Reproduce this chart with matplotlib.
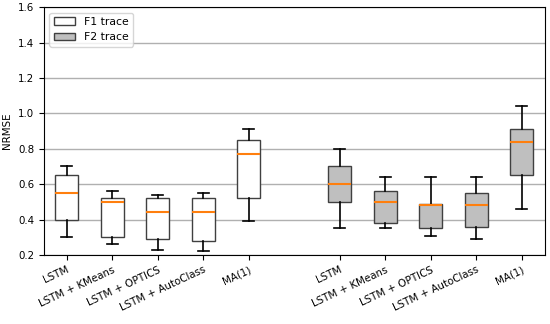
import matplotlib
matplotlib.use("Agg")
import matplotlib.pyplot as plt
from matplotlib.patches import Patch

methods = ["LSTM", "LSTM + KMeans", "LSTM + OPTICS", "LSTM + AutoClass", "MA(1)"]

# whislo, q1, med, q3, whishi
f1_low = [0.30, 0.26, 0.23, 0.22, 0.39]
f1_q1 = [0.40, 0.30, 0.29, 0.28, 0.52]
f1_med = [0.55, 0.50, 0.44, 0.44, 0.77]
f1_q3 = [0.65, 0.52, 0.52, 0.52, 0.85]
f1_high = [0.70, 0.56, 0.54, 0.55, 0.91]

f2_low = [0.35, 0.35, 0.31, 0.29, 0.46]
f2_q1 = [0.50, 0.38, 0.35, 0.36, 0.65]
f2_med = [0.60, 0.50, 0.48, 0.48, 0.84]
f2_q3 = [0.70, 0.56, 0.49, 0.55, 0.91]
f2_high = [0.80, 0.64, 0.64, 0.64, 1.04]


def make_stats(lo, q1, med, q3, hi):
    return [dict(whislo=a, q1=b, med=c, q3=d, whishi=e, fliers=[])
            for a, b, c, d, e in zip(lo, q1, med, q3, hi)]


plt.rcParams['font.size'] = 7.4

fig, ax = plt.subplots(figsize=(5.5, 3.24), dpi=100)
fig.subplots_adjust(left=0.08, right=0.99, top=0.978, bottom=0.213)

ax.yaxis.grid(True, color="#b0b0b0", linewidth=1)
ax.set_axisbelow(True)

med_style = dict(color="#ff7f0e", linewidth=1.5)
whisk = dict(color="black", linewidth=1.2)

ax.bxp(make_stats(f1_low, f1_q1, f1_med, f1_q3, f1_high), positions=[1, 2, 3, 4, 5],
       widths=0.5, patch_artist=True, showfliers=False,
       boxprops=dict(facecolor="white", edgecolor="#404040", linewidth=1),
       medianprops=med_style, whiskerprops=whisk, capprops=whisk)
ax.bxp(make_stats(f2_low, f2_q1, f2_med, f2_q3, f2_high), positions=[7, 8, 9, 10, 11],
       widths=0.5, patch_artist=True, showfliers=False,
       boxprops=dict(facecolor="#bfbfbf", edgecolor="#404040", linewidth=1),
       medianprops=med_style, whiskerprops=whisk, capprops=whisk)

ax.set_xlim(0.5, 11.5)
ax.set_ylim(0.2, 1.6)
ax.set_xticks([1, 2, 3, 4, 5, 7, 8, 9, 10, 11])
ax.set_xticklabels(methods + methods, rotation=25, ha="right", rotation_mode="anchor")
ax.set_ylabel("NRMSE")

handles = [Patch(facecolor="white", edgecolor="#404040", label="F1 trace"),
           Patch(facecolor="#bfbfbf", edgecolor="#404040", label="F2 trace")]
ax.legend(handles=handles, loc="upper left", fontsize=7.8)

fig.savefig("out.png", dpi=100)
